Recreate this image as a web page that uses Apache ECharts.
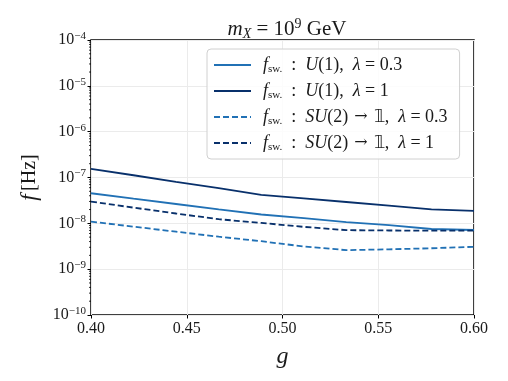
<!DOCTYPE html>
<html>
<head>
<meta charset="utf-8">
<script src="https://cdn.jsdelivr.net/npm/echarts@6/dist/echarts.min.js"></script>
<style>
  html, body { margin: 0; padding: 0; background: #fff; }
  #chart { width: 508px; height: 381px; }
</style>
</head>
<body>
<div id="chart"></div>
<script>
// g values (x axis)
const gValues = [0.40, 0.4222, 0.4444, 0.4667, 0.4889, 0.5111, 0.5333, 0.5556, 0.5778, 0.60]

// f_sw [Hz]
const u1Lam03 = [4.53e-8, 3.45e-8, 2.64e-8, 2.02e-8, 1.56e-8, 1.30e-8, 1.06e-8, 9.12e-9, 7.53e-9, 7.16e-9]
const u1Lam1 = [1.55e-7, 1.12e-7, 8.04e-8, 5.88e-8, 4.17e-8, 3.51e-8, 2.92e-8, 2.44e-8, 2.01e-8, 1.87e-8]
const su2Lam03 = [1.09e-8, 8.46e-9, 6.57e-9, 5.11e-9, 4.07e-9, 3.12e-9, 2.60e-9, 2.71e-9, 2.86e-9, 3.08e-9]
const su2Lam1 = [2.98e-8, 2.20e-8, 1.64e-8, 1.23e-8, 1.02e-8, 8.37e-9, 7.10e-9, 6.98e-9, 6.92e-9, 6.92e-9]

const xTicks = [0.40, 0.45, 0.50, 0.55, 0.60]
const yDecades = [-10, -9, -8, -7, -6, -5, -4]

const seriesNames = ['u1_03', 'u1_1', 'su2_03', 'su2_1']
const legendLabels = {
  u1_03: '{gap|}{i|f}{sub|sw.}{r|  :  }{i|U}{r|(1),  }{i|λ}{r| = 0.3}',
  u1_1: '{gap|}{i|f}{sub|sw.}{r|  :  }{i|U}{r|(1),  }{i|λ}{r| = 1}',
  su2_03: '{gap|}{i|f}{sub|sw.}{r|  :  }{i|SU}{r|(2)}{s|}{a|→}{s|}{r|𝟙,  }{i|λ}{r| = 0.3}',
  su2_1: '{gap|}{i|f}{sub|sw.}{r|  :  }{i|SU}{r|(2)}{s|}{a|→}{s|}{r|𝟙,  }{i|λ}{r| = 1}'
}

const light = '#2171b5'
const dark = '#08306b'
const serif = 'Liberation Serif'
const ink = '#1a1a1a'

const pairs = (ys) => gValues.map((g, i) => [g, ys[i]])

// minor log ticks (2..9 per decade)
const minorTicks = []
yDecades.slice(0, -1).forEach(d => {
  for (let k = 2; k <= 9; k++) minorTicks.push([0.40, k * Math.pow(10, d)])
})

const rich = {
  gap: { width: 7 },
  s: { width: 6 },
  i: { fontFamily: serif, fontStyle: 'italic', fontSize: 18, color: ink },
  r: { fontFamily: serif, fontSize: 18, color: ink },
  a: { fontFamily: 'DejaVu Serif', fontSize: 16, color: ink },
  sub: { fontFamily: serif, fontSize: 11, color: ink, padding: [8, 0, 0, 0] }
}

const chart = echarts.init(document.getElementById('chart'), null, { renderer: 'canvas' })

const lineSeries = (name, data, color, dashed) => ({
  name: name,
  type: 'line',
  data: pairs(data),
  symbol: 'none',
  smooth: false,
  lineStyle: { color: color, width: 1.8, type: dashed ? [6, 3] : 'solid' },
  itemStyle: { color: color },
  z: 3
})

const option = {
  animation: false,
  backgroundColor: '#fff',
  title: {
    text: '{i|m}{sub|X}{r| = 10}{sup|9}{r| GeV}',
    left: 282,
    top: 12,
    textAlign: 'center',
    textStyle: {
      fontWeight: 'normal',
      rich: {
        i: { fontFamily: serif, fontStyle: 'italic', fontWeight: 'normal', fontSize: 21, color: ink },
        r: { fontFamily: serif, fontWeight: 'normal', fontSize: 21, color: ink },
        sub: { fontFamily: serif, fontStyle: 'italic', fontWeight: 'normal', fontSize: 14, color: ink, padding: [10, 0, 0, 0] },
        sup: { fontFamily: serif, fontWeight: 'normal', fontSize: 14, color: ink, padding: [0, 0, 9, 0] }
      }
    }
  },
  grid: {
    left: 91, right: 34, top: 40, bottom: 66,
    show: true,
    borderColor: '#000',
    borderWidth: 1.5,
    containLabel: false
  },
  legend: {
    data: seriesNames,
    orient: 'vertical',
    left: 207,
    top: 49,
    itemWidth: 37,
    itemHeight: 14,
    itemGap: 6,
    padding: [6, 12, 6, 6],
    borderColor: '#d0d0d0',
    borderWidth: 1,
    borderRadius: 4,
    backgroundColor: 'rgba(255,255,255,0.85)',
    itemStyle: { opacity: 0 },
    formatter: (name) => legendLabels[name],
    textStyle: { rich: rich, lineHeight: 20 }
  },
  xAxis: {
    type: 'value',
    min: 0.40,
    max: 0.60,
    interval: 0.05,
    name: '{i|g}',
    nameLocation: 'middle',
    nameGap: 30,
    nameTextStyle: { rich: { i: { fontFamily: serif, fontStyle: 'italic', fontSize: 24, color: ink } } },
    axisLine: { show: false },
    axisTick: { show: true, length: 3.5, lineStyle: { color: '#000' } },
    axisLabel: {
      fontFamily: serif, fontSize: 16, color: ink, margin: 6,
      formatter: (v) => xTicks.some(t => Math.abs(t - v) < 1e-9) ? v.toFixed(2) : ''
    },
    splitLine: { show: true, lineStyle: { color: '#ebebeb', width: 1 } }
  },
  yAxis: {
    type: 'log',
    logBase: 10,
    min: 1e-10,
    max: 1e-4,
    name: '{i|f} {r|[Hz]}',
    nameLocation: 'middle',
    nameGap: 50,
    nameRotate: 90,
    nameTextStyle: {
      rich: {
        i: { fontFamily: serif, fontStyle: 'italic', fontSize: 23, color: ink },
        r: { fontFamily: serif, fontSize: 20, color: ink }
      }
    },
    axisLine: { show: false },
    axisTick: { show: true, length: 3.5, lineStyle: { color: '#000' } },
    axisLabel: {
      margin: 5,
      formatter: (v) => {
        const e = Math.round(Math.log10(v))
        return '{b|10}{e|−' + Math.abs(e) + '}'
      },
      rich: {
        b: { fontFamily: serif, fontSize: 16, color: ink },
        e: { fontFamily: serif, fontSize: 11, color: ink, padding: [0, 0, 8, 0] }
      }
    },
    splitLine: { show: true, lineStyle: { color: '#ebebeb', width: 1 } }
  },
  series: [
    lineSeries('u1_03', u1Lam03, light, false),
    lineSeries('u1_1', u1Lam1, dark, false),
    lineSeries('su2_03', su2Lam03, light, true),
    lineSeries('su2_1', su2Lam1, dark, true),
    {
      type: 'custom',
      name: 'minor',
      data: minorTicks,
      clip: false,
      silent: true,
      encode: { x: 0, y: 1 },
      renderItem: (params, api) => {
        const p = api.coord([api.value(0), api.value(1)])
        return {
          type: 'line',
          shape: { x1: p[0] - 2, y1: p[1], x2: p[0], y2: p[1] },
          style: { stroke: '#000', lineWidth: 0.8 }
        }
      }
    }
  ]
}

chart.setOption(option)
</script>
</body>
</html>
